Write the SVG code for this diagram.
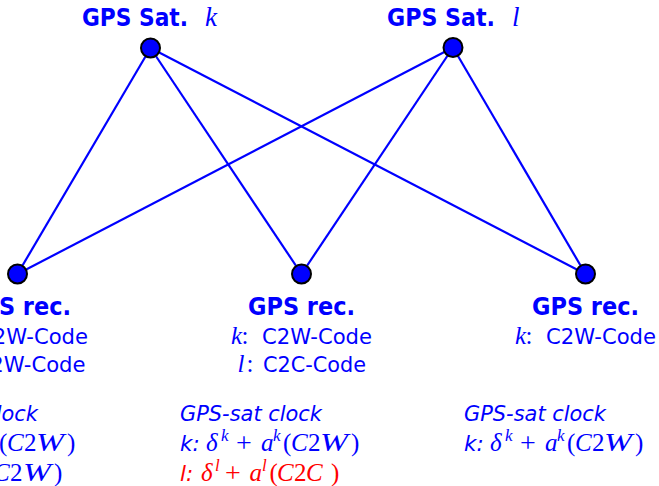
<svg xmlns="http://www.w3.org/2000/svg" width="659" height="486" viewBox="0 0 659 486">
<style>
.b{fill:#0000ff}
.r{fill:#ff0000}
.hd{font-family:"DejaVu Sans","Liberation Sans",sans-serif;font-weight:bold;font-size:24px}
.sf{font-family:"DejaVu Sans","Liberation Sans",sans-serif;font-size:21px}
.si{font-family:"DejaVu Sans","Liberation Sans",sans-serif;font-size:21.5px;font-style:italic}
.m{font-family:"Liberation Serif","DejaVu Serif",serif;font-style:italic;font-size:25px}
.mu{font-style:normal}
.pl{font-style:normal;font-size:28px}
.sup{font-size:17px}
.edge{stroke:#0000ff;stroke-width:2.2;fill:none}
.node{fill:#0000ff;stroke:#000;stroke-width:2}
</style>
<g id="connectors">
<line class="edge" x1="150.5" y1="48" x2="17.5" y2="274"/>
<line class="edge" x1="150.5" y1="48" x2="301.5" y2="274"/>
<line class="edge" x1="150.5" y1="48" x2="585.5" y2="274"/>
<line class="edge" x1="453" y1="47.5" x2="17.5" y2="274"/>
<line class="edge" x1="453" y1="47.5" x2="301.5" y2="274"/>
<line class="edge" x1="453" y1="47.5" x2="585.5" y2="274"/>
</g>
<g id="sat-k">
<circle class="node" cx="150.5" cy="48" r="9.5"/>
<text class="hd b" x="82" y="26" textLength="106" lengthAdjust="spacingAndGlyphs">GPS Sat.</text>
<text class="m b" x="205" y="26" style="font-size:27px">k</text>
</g>
<g id="sat-l">
<circle class="node" cx="453" cy="47.5" r="9.5"/>
<text class="hd b" x="387" y="26" textLength="108" lengthAdjust="spacingAndGlyphs">GPS Sat.</text>
<text class="m b" x="512" y="26" style="font-size:27px">l</text>
</g>
<g id="rec-left">
<circle class="node" cx="17.5" cy="274" r="9.5"/>
<text class="hd b" x="-36" y="315" textLength="107" lengthAdjust="spacingAndGlyphs">GPS rec.</text>
<text class="b" y="344"><tspan class="m" x="-53">k</tspan><tspan class="m mu" x="-42.5">:</tspan><tspan class="sf" x="-22" textLength="110" lengthAdjust="spacingAndGlyphs">C2W-Code</tspan></text>
<text class="b" y="372"><tspan class="m" x="-50">l</tspan><tspan class="m mu" x="-41">:</tspan><tspan class="sf" x="-24.5" textLength="110" lengthAdjust="spacingAndGlyphs">C2W-Code</tspan></text>
<text class="si b" x="-104" y="421" textLength="142" lengthAdjust="spacingAndGlyphs">GPS-sat clock</text>
<text class="b m">
<tspan class="si" x="-104" y="451">k:</tspan><tspan x="-78" y="451">δ</tspan><tspan class="sup" x="-63" y="441">k</tspan><tspan class="pl" x="-48" y="452">+</tspan><tspan x="-23" y="451">a</tspan><tspan class="sup" x="-11" y="441">k</tspan><tspan class="mu" x="-1" y="451">(</tspan><tspan x="7" y="451">C</tspan><tspan class="mu" x="24" y="451">2</tspan><tspan x="36" y="451" textLength="28" lengthAdjust="spacingAndGlyphs">W</tspan><tspan class="mu" x="67" y="451">)</tspan>
</text>
<text class="b m">
<tspan class="si" x="-104" y="481">l:</tspan><tspan x="-83" y="481">δ</tspan><tspan class="sup" x="-69" y="471">l</tspan><tspan class="pl" x="-59" y="482">+</tspan><tspan x="-34.5" y="481">a</tspan><tspan class="sup" x="-22" y="471">l</tspan><tspan class="mu" x="-14.5" y="481">(</tspan><tspan x="-7" y="481">C</tspan><tspan class="mu" x="10" y="481">2</tspan><tspan x="23" y="481" textLength="28" lengthAdjust="spacingAndGlyphs">W</tspan><tspan class="mu" x="54" y="481">)</tspan>
</text>
</g>
<g id="rec-middle">
<circle class="node" cx="301.5" cy="274" r="9.5"/>
<text class="hd b" x="248" y="315" textLength="107" lengthAdjust="spacingAndGlyphs">GPS rec.</text>
<text class="b" y="344"><tspan class="m" x="231">k</tspan><tspan class="m mu" x="241.5">:</tspan><tspan class="sf" x="262" textLength="110" lengthAdjust="spacingAndGlyphs">C2W-Code</tspan></text>
<text class="b" y="372"><tspan class="m" x="237.5">l</tspan><tspan class="m mu" x="246.5">:</tspan><tspan class="sf" x="263" textLength="103" lengthAdjust="spacingAndGlyphs">C2C-Code</tspan></text>
<text class="si b" x="180" y="421" textLength="142" lengthAdjust="spacingAndGlyphs">GPS-sat clock</text>
<text class="b m">
<tspan class="si" x="180" y="451">k:</tspan><tspan x="206" y="451">δ</tspan><tspan class="sup" x="221" y="441">k</tspan><tspan class="pl" x="236" y="452">+</tspan><tspan x="261" y="451">a</tspan><tspan class="sup" x="273" y="441">k</tspan><tspan class="mu" x="283" y="451">(</tspan><tspan x="291" y="451">C</tspan><tspan class="mu" x="308" y="451">2</tspan><tspan x="320" y="451" textLength="28" lengthAdjust="spacingAndGlyphs">W</tspan><tspan class="mu" x="351" y="451">)</tspan>
</text>
<text class="r m">
<tspan class="si" x="180" y="481">l:</tspan><tspan x="201" y="481">δ</tspan><tspan class="sup" x="215" y="471">l</tspan><tspan class="pl" x="225" y="482">+</tspan><tspan x="249.5" y="481">a</tspan><tspan class="sup" x="262" y="471">l</tspan><tspan class="mu" x="269.5" y="481">(</tspan><tspan x="277" y="481">C</tspan><tspan class="mu" x="294" y="481">2</tspan><tspan x="306" y="481">C</tspan><tspan class="mu" x="331" y="481">)</tspan>
</text>
</g>
<g id="rec-right">
<circle class="node" cx="585.5" cy="274" r="9.5"/>
<text class="hd b" x="532" y="315" textLength="107" lengthAdjust="spacingAndGlyphs">GPS rec.</text>
<text class="b" y="344"><tspan class="m" x="515">k</tspan><tspan class="m mu" x="525.5">:</tspan><tspan class="sf" x="546" textLength="110" lengthAdjust="spacingAndGlyphs">C2W-Code</tspan></text>
<text class="si b" x="464" y="421" textLength="142" lengthAdjust="spacingAndGlyphs">GPS-sat clock</text>
<text class="b m">
<tspan class="si" x="464" y="451">k:</tspan><tspan x="490" y="451">δ</tspan><tspan class="sup" x="505" y="441">k</tspan><tspan class="pl" x="520" y="452">+</tspan><tspan x="545" y="451">a</tspan><tspan class="sup" x="557" y="441">k</tspan><tspan class="mu" x="567" y="451">(</tspan><tspan x="575" y="451">C</tspan><tspan class="mu" x="592" y="451">2</tspan><tspan x="604" y="451" textLength="28" lengthAdjust="spacingAndGlyphs">W</tspan><tspan class="mu" x="635" y="451">)</tspan>
</text>
</g>
</svg>
